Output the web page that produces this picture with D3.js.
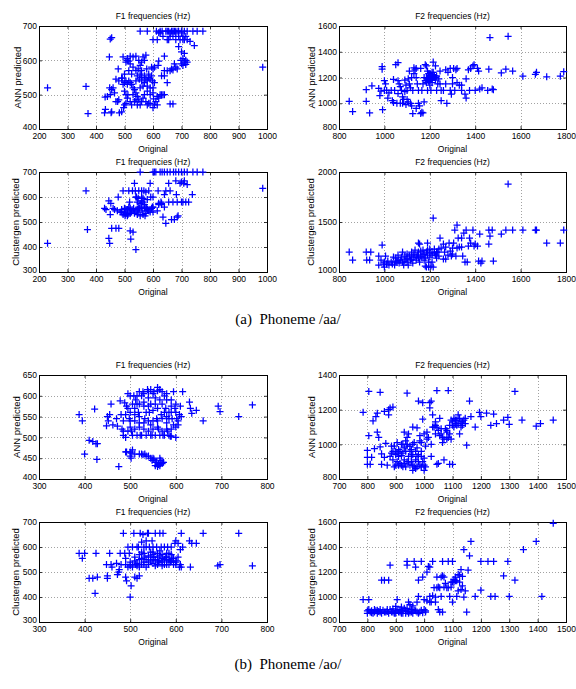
<!DOCTYPE html>
<html>
<head>
<meta charset="utf-8">
<script src="https://cdn.jsdelivr.net/npm/d3@7/dist/d3.min.js"></script>
<style>
html,body{margin:0;padding:0;background:#fff;}
svg{display:block;}
</style>
</head>
<body>
<script>
// ---------- tick labels ----------
const ticksF1aa = [200,300,400,500,600,700,800,900,1000];
const ticksF2aa = [800,1000,1200,1400,1600,1800];
const ticksY_P1 = [400,500,600,700];
const ticksY_P2 = [800,1000,1200,1400,1600];
const ticksY_P3 = [300,400,500,600,700];
const ticksY_P4 = [1000,1500,2000];
const ticksF1ao = [300,400,500,600,700,800];
const ticksF2ao = [700,800,900,1000,1100,1200,1300,1400,1500];
const ticksY_P5 = [400,450,500,550,600,650];
const ticksY_P6 = [800,1000,1200,1400];
const ticksY_P7 = [300,400,500,600,700];
const ticksY_P8 = [800,1000,1200,1400,1600];

// ---------- data: [original, predicted] ----------
const aaF1Ann = [
[230,520],[365,524],[372,445],[985,580],
[555,685],[580,685],[612,685],[625,685],[632,685],[645,685],[655,685],[665,685],[670,685],[675,685],[680,685],[688,685],[700,685],[720,685],[740,685],[755,685],[775,685],
[625,680],[660,680],[680,680],[700,680],[620,680],[650,685],[690,685],[710,685],
[635,670],[660,670],[670,670],[690,670],[705,670],[715,670],
[600,660],[615,660],[650,660],[680,660],[695,660],[705,660],[710,660],[720,660],[655,660],
[730,655],[745,643],[690,640],[700,625],[710,620],[715,600],[705,605],
[700,590],[705,585],[710,595],[720,595],[715,588],[698,600],
[665,575],[670,572],[660,570],[650,570],[640,570],[680,580],[685,575],[675,590],
[640,612],[620,598],[618,585],[640,555],[630,555],[650,535],[600,575],[595,580],[605,580],
[600,462],[605,470],[610,480],[615,495],[620,490],[625,500],[630,500],[635,500],[640,500],[660,473],[670,473],[615,470],[602,488],[590,475],
[585,550],[578,575],[570,600],[565,610],[575,615],[560,595],[555,585],[560,570],[555,560],[548,575],[550,600],[540,612],[530,610],[520,612],[515,598],[510,600],[520,590],[530,580],[540,570],[545,555],[552,545],[560,540],[570,535],[580,540],[590,545],[598,540],[605,535],[600,520],[590,520],[580,510],[570,500],[565,490],[575,480],[580,470],[585,475],[560,480],[555,470],[550,485],[545,495],[540,505],[535,515],[530,520],[525,530],[520,535],[515,540],[510,530],[505,540],[500,535],[495,530],[490,548],[480,540],[470,545],[500,560],[515,570],[525,560],[540,540],[555,520],[565,525],[580,525],[590,500],[600,505],[500,510],[505,500],[510,490],[520,480],[525,470],[535,480],[540,485],[545,470],[500,470],[497,462],[505,475],[512,500],[530,500],[480,485],[476,480],[470,480],[465,505],[460,520],[455,515],[450,500],[448,520],[440,495],[432,493],[430,447],[433,457],[453,447],[455,450],[482,447],[490,450],[495,610],[447,610],[450,662],[455,666],[478,575],[492,548],[505,595],[510,605],[575,545],[585,560],[595,555],[570,555],[560,550]
];
const aaF2Ann = [
[845,1015],[860,935],[920,1015],[920,1105],[935,925],[945,1135],[975,1115],[980,1060],[985,1095],[990,1285],[990,1265],[992,950],[1000,1100],[1000,1175],[1005,1150],[1010,1100],[1015,1040],[1020,1080],[1030,1100],[1035,1020],[1040,1185],[1040,1005],[1045,1100],[1050,1300],[1060,1315],[1055,1000],[1060,1175],[1065,1150],[1070,1130],[1075,1100],[1080,1050],[1085,1030],[1080,1000],[1090,1180],[1095,1140],[1100,1100],[1100,1030],[1105,1190],[1110,1150],[1115,1120],[1115,1000],[1120,980],[1125,920],[1125,1100],[1130,1275],[1135,1260],[1140,1270],[1140,1200],[1145,1150],[1150,1100],[1150,1000],[1155,980],[1160,920],[1165,930],[1170,925],[1165,1100],[1170,1150],[1175,1200],[1180,1300],[1185,1290],[1190,1250],[1190,1180],[1195,1200],[1200,1210],[1200,1180],[1205,1220],[1210,1190],[1210,1160],[1215,1320],[1215,1240],[1220,1200],[1225,1180],[1225,1290],[1230,1210],[1235,1150],[1240,1190],[1185,1160],[1180,1175],[1195,1230],[1200,1140],[1205,1100],[1190,1100],[1230,1100],[1245,1250],[1250,1100],[1260,1100],[1270,1260],[1275,1000],[1280,1240],[1290,1100],[1295,1070],[1290,1270],[1300,1200],[1305,1270],[1310,1100],[1320,1270],[1330,1140],[1340,1140],[1340,1100],[1355,1070],[1360,1040],[1370,1260],[1375,1100],[1380,1270],[1390,1290],[1395,1300],[1400,1100],[1410,1270],[1415,1250],[1420,1110],[1430,1120],[1455,1100],[1460,1265],[1465,1510],[1475,1110],[1480,1105],[1515,1235],[1535,1265],[1545,1520],[1565,1250],[1610,1210],[1665,1225],[1670,1240],[1715,1205],[1775,1210],[1790,1245],[1120,1200],[1130,1230],[1160,1270],[1245,1150],[1250,1020],[1270,1150],[1300,1150],[1315,1260],[1360,1190],[1320,1160],[1070,1000],[1060,1075],[1090,1090],[1110,1250],[1105,1010],[1095,990],[1140,960],[1175,1010],
[1190,1195],[1200,1195],[1205,1185],[1210,1210],[1215,1200],[1220,1215],[1195,1170],[1185,1200],[1200,1230],[1210,1240],[1225,1200]
];
const aaF1Clg = [
[230,415],[365,625],[370,470],[430,555],[435,550],[445,585],[445,435],[448,415],[450,530],[452,575],[455,475],[460,555],[465,550],[470,475],[475,545],[478,600],[480,475],[485,540],[490,540],[495,625],[495,530],[500,555],[502,525],[505,550],[510,525],[512,530],[515,625],[518,580],[520,555],[520,465],[522,432],[528,625],[530,460],[532,555],[535,655],[538,625],[540,390],[542,600],[545,550],[548,595],[550,625],[552,555],[555,525],[560,600],[562,545],[565,580],[568,625],[570,570],[572,525],[575,560],[578,555],[580,590],[585,545],[590,655],[592,600],[595,555],[598,560],[600,540],[605,700],[610,700],[615,545],[618,625],[620,575],[625,700],[628,580],[630,570],[632,700],[635,520],[640,560],[640,610],[645,495],[650,700],[655,655],[655,580],[660,625],[660,700],[665,510],[670,580],[672,700],[675,510],[680,665],[682,610],[685,580],[688,525],[690,700],[695,655],[700,660],[705,580],[708,655],[710,700],[715,580],[720,650],[725,580],[738,610],[740,700],[755,700],[775,700],[985,635],[555,700],[600,700],[640,700],[680,700],[700,700],[720,700],[645,625],[685,520],[700,580],[710,665],[540,600],[550,560],[560,560],[570,555],[580,550],[500,540],[510,550],[520,545],[530,550],[540,545],[545,530],[565,530],[575,535],[590,540],[600,560],[555,575],[565,595],[575,620],[585,625],[505,535],[525,540],[535,535],[550,540],[490,550],[515,560],[560,625],[600,600],[620,570],[630,575],[520,535],[545,580],[560,585]
];
const aaF2Clg = [
[845,1200],[860,1120],[920,1200],[922,1120],[935,1120],[940,1200],[975,1160],[975,1070],[985,1120],[990,1270],[995,1080],[1000,1100],[1005,1160],[1010,1080],[1015,1110],[1020,1070],[1030,1100],[1035,1080],[1040,1150],[1045,1070],[1050,1140],[1055,1100],[1060,1170],[1065,1090],[1070,1120],[1075,1150],[1080,1200],[1085,1070],[1090,1160],[1095,1130],[1100,1100],[1100,1180],[1105,1070],[1110,1160],[1115,1120],[1120,1200],[1125,1090],[1130,1150],[1135,1220],[1140,1120],[1145,1170],[1150,1290],[1155,1280],[1155,1100],[1160,1210],[1165,1150],[1170,1220],[1175,1120],[1180,1060],[1185,1200],[1185,1050],[1190,1290],[1190,1170],[1195,1100],[1195,1050],[1200,1230],[1200,1150],[1205,1060],[1210,1200],[1210,1100],[1215,1540],[1215,1050],[1220,1230],[1225,1170],[1230,1140],[1235,1200],[1240,1160],[1245,1340],[1250,1240],[1260,1130],[1265,1200],[1270,1250],[1280,1170],[1285,1290],[1290,1210],[1295,1160],[1300,1240],[1305,1290],[1310,1420],[1315,1160],[1320,1470],[1325,1340],[1330,1250],[1340,1250],[1345,1160],[1350,1390],[1355,1100],[1360,1420],[1365,1100],[1370,1260],[1375,1340],[1380,1290],[1390,1420],[1395,1260],[1400,1280],[1410,1260],[1415,1110],[1420,1380],[1425,1090],[1430,1110],[1460,1280],[1460,1420],[1465,1360],[1475,1420],[1480,1110],[1515,1380],[1535,1420],[1545,1880],[1565,1420],[1610,1420],[1665,1420],[1670,1420],[1715,1290],[1775,1290],[1790,1420],[1060,1120],[1080,1100],[1100,1140],[1120,1130],[1130,1180],[1140,1150],[1150,1200],[1160,1160],[1170,1180],[1180,1140],[1200,1190],[1210,1170],[1220,1190],[1230,1200],[1240,1230],[1190,1220],[1175,1180],[1150,1140],[1120,1170],[1090,1110],[1050,1110],[1000,1050],[1270,1130],[1300,1180],[1320,1240],[1340,1340],[1260,1280]
];
const aoF1Ann = [
[388,555],[395,540],[400,460],[410,493],[418,490],[422,568],[425,485],[427,447],[428,485],[448,528],[450,550],[452,540],[455,555],[458,580],[462,530],[470,545],[472,527],[475,430],[478,588],[480,555],[482,520],[485,505],[488,583],[490,500],[490,465],[492,575],[495,605],[498,545],[500,465],[502,450],[503,515],[505,470],[508,600],[510,540],[512,590],[515,580],[518,560],[520,535],[522,505],[525,600],[525,460],[528,610],[530,575],[532,545],[535,455],[538,615],[540,595],[542,560],[545,530],[548,505],[550,450],[552,610],[555,580],[555,440],[558,545],[560,620],[560,430],[562,520],[565,590],[565,450],[568,555],[570,440],[572,505],[575,600],[578,570],[580,535],[582,515],[585,560],[588,503],[590,590],[592,545],[595,610],[598,570],[600,580],[602,545],[605,530],[608,555],[610,575],[612,550],[615,610],[630,585],[632,570],[635,558],[645,565],[660,540],[693,575],[697,562],[738,550],[768,578],
[485,515],[495,515],[505,505],[515,505],[525,505],[535,505],[545,505],[555,505],[565,505],[575,505],[585,505],[590,503],[500,525],[510,520],[520,525],[530,520],[540,515],[550,520],[560,525],[570,515],[580,520],[590,520],[500,540],[510,555],[520,550],[530,535],[540,540],[550,540],[560,540],[570,545],[580,550],[590,560],[500,560],[510,570],[520,580],[530,585],[540,575],[550,565],[560,570],[570,580],[580,590],[590,575],[515,600],[520,610],[530,605],[540,610],[550,605],[560,612],[570,610],[580,605],[545,615],[565,615],[535,560],[545,580],[555,595],[575,560],[585,545],[595,530],[600,525],[605,540],[500,600],[505,580],[490,555],[485,540],[495,570],[600,560],[600,500],
[492,465],[502,462],[510,460],[528,458],[532,460],[540,455],[545,450],[552,448],[558,440],[562,435],[567,445],[570,437],[573,440],[565,432],[555,432],[500,455],[520,460],[548,445]
];
const aoF2Ann = [
[785,1185],[805,1305],[845,1300],[940,1295],[1045,1310],[1085,1310],[1320,1305],[800,965],[800,925],[800,885],[810,885],[805,1050],[815,925],[820,1135],[825,975],[830,1160],[835,1180],[835,1070],[840,1040],[845,985],[850,945],[850,885],[860,1190],[860,925],[865,1005],[870,880],[875,1170],[875,1200],[880,1210],[885,950],[890,1215],[895,990],[900,940],[900,880],[905,1010],[910,970],[915,890],[920,935],[925,1000],[930,1070],[935,960],[940,900],[940,1040],[945,1060],[950,990],[955,930],[960,1100],[960,880],[965,1010],[970,960],[975,1095],[980,1250],[980,900],[985,1050],[990,930],[995,1240],[995,1145],[1000,880],[1005,990],[1010,1030],[1015,1040],[1020,1210],[1020,1240],[1025,1250],[1025,930],[1030,1170],[1035,1100],[1040,1110],[1045,885],[1050,890],[1055,1050],[1060,1060],[1065,1040],[1070,910],[1075,1090],[1080,1030],[1085,1040],[1090,885],[1095,1030],[1100,885],[1100,1130],[1105,1150],[1110,1120],[1115,1140],[1120,1170],[1125,1060],[1130,1130],[1135,1110],[1140,1140],[1145,1120],[1150,995],[1160,1250],[1165,1160],[1180,1100],[1195,1185],[1200,1160],[1220,1180],[1235,1110],[1245,1175],[1255,1120],[1280,1140],[1295,1155],[1300,1115],[1345,1140],[1395,1105],[1410,1120],[1455,1140],
[880,930],[890,910],[900,960],[905,900],[910,930],[915,960],[920,880],[925,950],[930,910],[935,870],[940,990],[945,930],[950,960],[955,900],[960,940],[965,870],[970,910],[975,980],[980,940],[985,880],[990,960],[995,900],[1000,920],[890,960],[920,1000],[930,980],[945,900],[960,1000],[975,930],[985,1020],[895,870],[910,880],[930,890],[950,880],[970,860],[990,870],[1000,850],[885,990],[905,950],[940,1000],[955,970],[935,1020],[925,870],[960,850],[975,870],[1005,870],
[1100,1110],[1110,1140],[1120,1120],[1125,1150],[1135,1130],[1095,1140],[1105,1100],[1115,1110],[1130,1100],[1145,1150],
[1070,1030],[1080,1070],[1090,1060],[1045,1100],[1050,1080],[1040,1130],[1055,1150],[1030,1100],[1060,1090],[1065,1010],[1025,1000],[1010,1070],[1000,1060],[990,1010],[1080,1080],[1090,1110],[1040,1060]
];
const aoF1Clg = [
[388,575],[395,555],[400,575],[410,475],[418,475],[423,415],[425,575],[428,480],[448,530],[450,485],[450,475],[455,575],[458,530],[460,520],[470,535],[472,490],[475,500],[476,510],[478,575],[480,530],[485,655],[488,575],[490,555],[490,480],[492,465],[495,520],[498,575],[500,400],[502,445],[505,600],[508,655],[510,480],[512,530],[515,475],[518,600],[520,485],[522,655],[525,620],[528,650],[530,600],[532,560],[535,625],[538,655],[540,655],[542,600],[545,580],[548,625],[550,600],[552,560],[555,655],[558,600],[560,575],[562,540],[565,655],[568,600],[570,570],[572,655],[575,600],[578,560],[580,530],[582,600],[585,575],[588,540],[590,600],[592,555],[595,530],[598,615],[600,625],[602,545],[605,615],[608,520],[610,590],[612,655],[615,600],[630,625],[632,520],[635,615],[645,615],[660,655],[692,525],[697,530],[738,655],[768,525],
[490,530],[500,540],[505,530],[510,545],[515,535],[520,550],[525,530],[530,540],[535,550],[540,530],[545,545],[550,535],[555,550],[560,530],[565,545],[570,540],[575,550],[580,560],[585,530],[590,545],[595,555],[600,540],[505,520],[515,525],[525,555],[535,520],[545,560],[555,525],[565,565],[575,530],[585,550],[595,540],[520,570],[530,575],[540,565],[550,570],[560,560],[570,555],[580,545],[500,525],[510,560],[525,580],[550,580],[565,585],[590,570],[600,530],[605,560],[610,530],[612,520],[540,540],[560,545],[530,530],[550,550],[570,525],[580,575],[520,520],[515,600],[495,600],[535,600]
];
const aoF2Clg = [
[785,980],[805,980],[800,890],[800,870],[810,880],[815,890],[820,870],[825,880],[830,890],[835,870],[840,885],[845,900],[850,870],[850,1135],[860,1135],[865,880],[870,900],[875,1135],[875,870],[880,1255],[885,880],[890,905],[895,870],[900,890],[905,980],[910,880],[915,900],[920,870],[925,890],[930,910],[935,870],[940,1285],[940,1255],[945,960],[950,880],[955,900],[960,870],[965,1285],[970,1240],[970,890],[975,960],[980,1005],[980,1135],[985,880],[990,1285],[995,1160],[1000,900],[1005,880],[1010,1200],[1015,1245],[1020,1240],[1020,1005],[1025,960],[1030,1285],[1035,1075],[1040,960],[1045,1075],[1050,900],[1055,880],[1060,1005],[1065,1285],[1065,880],[1070,1160],[1075,1110],[1080,1075],[1085,1285],[1090,1005],[1095,1120],[1100,1285],[1100,960],[1105,1120],[1110,1160],[1115,1005],[1120,1180],[1120,1050],[1125,1120],[1130,1220],[1135,1090],[1140,1380],[1140,1000],[1145,1050],[1150,880],[1155,1215],[1160,1330],[1165,1445],[1180,1005],[1200,1285],[1200,1055],[1225,1285],[1235,1005],[1245,1285],[1250,1005],[1280,1170],[1295,1285],[1300,1005],[1320,1135],[1350,1380],[1395,1445],[1415,1005],[1455,1590],
[805,900],[815,875],[825,900],[835,895],[845,880],[855,895],[860,880],[870,885],[880,900],[890,880],[900,870],[905,895],[915,880],[925,870],[935,895],[940,885],[945,870],[955,880],[965,895],[975,880],[980,870],[990,895],[995,875],[1005,890],[940,910],[920,920],[900,925],[960,930],[950,940],
[1060,1160],[1065,1170],[1070,1080],[1085,1075],[1095,1080],[1105,1140],[1115,1130],[1125,1175],[1135,1165],[1110,1130],[1100,1120],[1045,1160],[1050,1080],[1055,1075],[1130,1060],[1040,1000],[1030,1010],[1020,960],[1010,970],[1000,980]
];

// ---------- layout ----------
const W = 576, H = 689;
const colL = [39, 267], colR = [339, 566];
const panels = [
  {xr: colL, yr: [26,129],  xd:[200,1000], xt: ticksF1aa, yd:[400,700],  yt: ticksY_P1, title:"F1 frequencies (Hz)", ylab:"ANN predicted",        ylx:17,  data: aaF1Ann},
  {xr: colR, yr: [26,129],  xd:[800,1800], xt: ticksF2aa, yd:[800,1600], yt: ticksY_P2, title:"F2 frequencies (Hz)", ylab:"ANN predicted",        ylx:311, data: aaF2Ann},
  {xr: colL, yr: [172,272], xd:[200,1000], xt: ticksF1aa, yd:[300,700],  yt: ticksY_P3, title:"F1 frequencies (Hz)", ylab:"Clustergen predicted", ylx:15,  data: aaF1Clg},
  {xr: colR, yr: [172,272], xd:[800,1800], xt: ticksF2aa, yd:[1000,2000],yt: ticksY_P4, title:"F2 frequencies (Hz)", ylab:"Clustergen predicted", ylx:310, data: aaF2Clg},
  {xr: colL, yr: [375,479], xd:[300,800],  xt: ticksF1ao, yd:[400,650],  yt: ticksY_P5, title:"F1 frequencies (Hz)", ylab:"ANN predicted",        ylx:16,  data: aoF1Ann},
  {xr: colR, yr: [375,479], xd:[700,1500], xt: ticksF2ao, yd:[800,1400], yt: ticksY_P6, title:"F2 frequencies (Hz)", ylab:"ANN predicted",        ylx:311, data: aoF2Ann},
  {xr: colL, yr: [522,622], xd:[300,800],  xt: ticksF1ao, yd:[300,700],  yt: ticksY_P7, title:"F1 frequencies (Hz)", ylab:"Clustergen predicted", ylx:15,  data: aoF1Clg},
  {xr: colR, yr: [522,622], xd:[700,1500], xt: ticksF2ao, yd:[800,1600], yt: ticksY_P8, title:"F2 frequencies (Hz)", ylab:"Clustergen predicted", ylx:311, data: aoF2Clg}
];
const captions = [
  {text:"(a)  Phoneme /aa/", x:288, y:324},
  {text:"(b)  Phoneme /ao/", x:288, y:669}
];

const svg = d3.select("body").append("svg").attr("width", W).attr("height", H);
svg.append("rect").attr("width", W).attr("height", H).attr("fill", "#fff");

const sans = "'Liberation Sans', Arial, Helvetica, sans-serif";

panels.forEach(p => {
  const x = d3.scaleLinear().domain(p.xd).range(p.xr);
  const y = d3.scaleLinear().domain(p.yd).range([p.yr[1], p.yr[0]]);
  const g = svg.append("g");

  // grid
  const grid = g.append("g").attr("stroke", "#8a8a8a").attr("stroke-width", 0.8).attr("stroke-dasharray", "1,2");
  grid.selectAll("line.gx").data(p.xt.slice(1, -1)).join("line")
    .attr("x1", d => Math.round(x(d)) + 0.5).attr("x2", d => Math.round(x(d)) + 0.5)
    .attr("y1", p.yr[0]).attr("y2", p.yr[1]);
  grid.selectAll("line.gy").data(p.yt.slice(1, -1)).join("line")
    .attr("y1", d => Math.round(y(d)) + 0.5).attr("y2", d => Math.round(y(d)) + 0.5)
    .attr("x1", p.xr[0]).attr("x2", p.xr[1]);

  // axes (inward ticks)
  const xa = g.append("g").attr("transform", `translate(0,${p.yr[1]})`)
    .call(d3.axisBottom(x).tickValues(p.xt).tickSize(-3).tickPadding(4).tickFormat(d3.format("d")));
  const ya = g.append("g").attr("transform", `translate(${p.xr[0]},0)`)
    .call(d3.axisLeft(y).tickValues(p.yt).tickSize(-3).tickPadding(2).tickFormat(d3.format("d")));
  const xt2 = g.append("g").attr("transform", `translate(0,${p.yr[0]})`)
    .call(d3.axisTop(x).tickValues(p.xt).tickSize(-3).tickFormat(""));
  const yt2 = g.append("g").attr("transform", `translate(${p.xr[1]},0)`)
    .call(d3.axisRight(y).tickValues(p.yt).tickSize(-3).tickFormat(""));
  [xa, ya, xt2, yt2].forEach(a => {
    a.select(".domain").remove();
    a.selectAll("line").attr("stroke", "#000").attr("stroke-width", 0.8);
    a.selectAll("text").attr("font-family", sans).attr("font-size", "8.5px").attr("fill", "#000");
  });
  xa.selectAll("text").attr("dy", "0.71em");
  // lowest y label nudged up slightly so it clears the x labels at the corner
  ya.selectAll(".tick text").filter(d => d === p.yt[0]).attr("dy", "0.05em");

  // box
  g.append("rect").attr("x", p.xr[0] + 0.5).attr("y", p.yr[0] + 0.5)
    .attr("width", p.xr[1] - p.xr[0]).attr("height", p.yr[1] - p.yr[0])
    .attr("fill", "none").attr("stroke", "#000").attr("stroke-width", 1);

  // markers
  const s = 3.5;
  g.append("g").attr("stroke", "#0000ff").attr("stroke-width", 1.25).attr("fill", "none")
    .selectAll("path").data(p.data).join("path")
    .attr("d", d => {
      const cx = x(d[0]), cy = y(d[1]);
      return `M${cx - s},${cy}H${cx + s}M${cx},${cy - s}V${cy + s}`;
    });

  const cxm = (p.xr[0] + p.xr[1]) / 2;
  // title
  g.append("text").attr("x", cxm).attr("y", p.yr[0] - 7)
    .attr("text-anchor", "middle").attr("font-family", sans).attr("font-size", "8.5px").attr("fill", "#000")
    .text(p.title);
  // x label
  g.append("text").attr("x", cxm).attr("y", p.yr[1] + 22.5)
    .attr("text-anchor", "middle").attr("font-family", sans).attr("font-size", "8.5px").attr("fill", "#000")
    .text("Original");
  // y label
  const cym = (p.yr[0] + p.yr[1]) / 2;
  g.append("text").attr("transform", `translate(${p.ylx},${cym}) rotate(-90)`)
    .attr("text-anchor", "middle").attr("dominant-baseline", "central")
    .attr("font-family", sans).attr("font-size", "9.5px").attr("fill", "#000")
    .text(p.ylab);
});

captions.forEach(c => {
  svg.append("text").attr("x", c.x).attr("y", c.y).attr("text-anchor", "middle")
    .attr("font-family", "'Liberation Serif', 'Times New Roman', serif").attr("font-size", "15px")
    .attr("fill", "#000").style("white-space", "pre").text(c.text);
});
</script>
</body>
</html>
